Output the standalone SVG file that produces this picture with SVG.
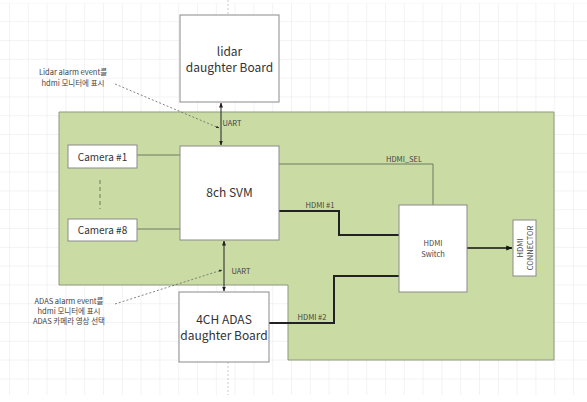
<svg xmlns="http://www.w3.org/2000/svg" width="587" height="402" viewBox="0 0 587 402">
<style>
.box{fill:#fff;stroke:#8a8a8a;stroke-width:1}
.t{font-family:"Noto Sans CJK KR","Noto Sans",sans-serif;fill:#333;text-anchor:middle}
.big{font-size:12px}
.mid{font-size:10px}
.sm{font-size:7.5px;fill:#444}
.ln{fill:none;stroke:#6f7a5e;stroke-width:1}
.thick{fill:none;stroke:#222;stroke-width:2}
.dot{fill:none;stroke:#666;stroke-width:0.8;stroke-dasharray:2,2}
</style>
<defs>
<pattern id="grid" x="9" y="2.4" width="18.8" height="18.8" patternUnits="userSpaceOnUse">
<path d="M0 0H18.8M0 0V18.8" fill="none" stroke="#e8e8e8" stroke-width="1"/>
</pattern>
<marker id="ah" viewBox="0 0 10 10" refX="9" refY="5" markerWidth="5" markerHeight="5" orient="auto-start-reverse">
<path d="M0 1L10 5L0 9z" fill="#222"/>
</marker>
<marker id="ahs" viewBox="0 0 10 10" refX="9" refY="5" markerWidth="4" markerHeight="4" orient="auto">
<path d="M0 1L10 5L0 9z" fill="#222"/>
</marker>
<marker id="ahb" viewBox="0 0 10 10" refX="9" refY="5" markerWidth="4" markerHeight="4" orient="auto">
<path d="M0 1L10 5L0 9z" fill="#111"/>
</marker>
</defs>
<rect width="587" height="402" fill="#fff"/>
<rect x="0" y="3" width="587" height="392" fill="url(#grid)"/>
<line x1="228" y1="0" x2="228" y2="14" stroke="#bbb" stroke-width="0.8" stroke-dasharray="2,2"/>
<line x1="228" y1="362" x2="228" y2="395" stroke="#bbb" stroke-width="0.8" stroke-dasharray="2,2"/>

<g id="board">
<path d="M59 112H554V360H288V285H59Z" fill="#cadba4" stroke="#8d9a7d" stroke-width="1"/>
</g>

<g id="connectors">
<line class="ln" x1="137" y1="155" x2="180" y2="155"/>
<line class="ln" x1="137" y1="229" x2="180" y2="229"/>
<line x1="100" y1="180" x2="100" y2="209" stroke="#6f7a5e" stroke-width="1" stroke-dasharray="4,3"/>
<line x1="221" y1="103" x2="221" y2="145" stroke="#222" stroke-width="1" marker-start="url(#ah)" marker-end="url(#ah)"/>
<line x1="224" y1="241" x2="224" y2="291" stroke="#222" stroke-width="1" marker-start="url(#ah)" marker-end="url(#ah)"/>
<path class="ln" d="M279 164H433V205"/>
<path class="thick" d="M279 211H339V235H399"/>
<path class="thick" d="M269 323H334V276H399"/>
<line x1="467" y1="248" x2="512" y2="248" stroke="#111" stroke-width="1.6" marker-end="url(#ahb)"/>
<line class="dot" x1="115" y1="84" x2="219" y2="128" marker-end="url(#ahs)"/>
<line class="dot" x1="115" y1="304" x2="222" y2="270" marker-end="url(#ahs)"/>
<text class="t sm" x="232" y="126">UART</text>
<text class="t sm" x="241" y="274">UART</text>
<text class="t sm" x="404" y="162">HDMI_SEL</text>
<text class="t sm" x="320" y="208">HDMI #1</text>
<text class="t sm" x="312" y="320">HDMI #2</text>
</g>

<g id="lidar">
<rect class="box" x="180" y="15" width="99" height="87"/>
<text class="t big" x="229.5" y="56">lidar</text>
<text class="t big" x="229.5" y="72">daughter Board</text>
</g>
<g id="cam1">
<rect class="box" x="68" y="145" width="69" height="23"/>
<text class="t mid" x="102.5" y="160.5">Camera #1</text>
</g>
<g id="cam8">
<rect class="box" x="68" y="219" width="69" height="22"/>
<text class="t mid" x="102.5" y="233.5">Camera #8</text>
</g>
<g id="svm">
<rect class="box" x="180" y="146" width="99" height="94"/>
<text class="t big" x="229.5" y="197">8ch SVM</text>
</g>
<g id="switch">
<rect class="box" x="399" y="205" width="68" height="87"/>
<text class="t sm" x="433" y="246">HDMI</text>
<text class="t sm" x="433" y="257">Switch</text>
</g>
<g id="connector">
<rect class="box" x="513" y="220" width="23" height="56"/>
<text class="t sm" transform="translate(524.5 248) rotate(-90)" x="0" y="-2">HDMI</text>
<text class="t sm" transform="translate(524.5 248) rotate(-90)" x="0" y="8">CONNECTOR</text>
</g>
<g id="adas">
<rect class="box" x="179" y="292" width="90" height="70"/>
<text class="t big" x="224" y="324">4CH ADAS</text>
<text class="t big" x="224" y="340">daughter Board</text>
</g>
<g id="note-lidar">
<text class="t sm" x="73" y="75">Lidar alarm event를</text>
<text class="t sm" x="73" y="86">hdmi 모니터에 표시</text>
</g>
<g id="note-adas">
<text class="t sm" x="69" y="304">ADAS alarm event를</text>
<text class="t sm" x="69" y="314">hdmi 모니터에 표시</text>
<text class="t sm" x="69" y="324">ADAS 카메라 영상 선택</text>
</g>
</svg>
